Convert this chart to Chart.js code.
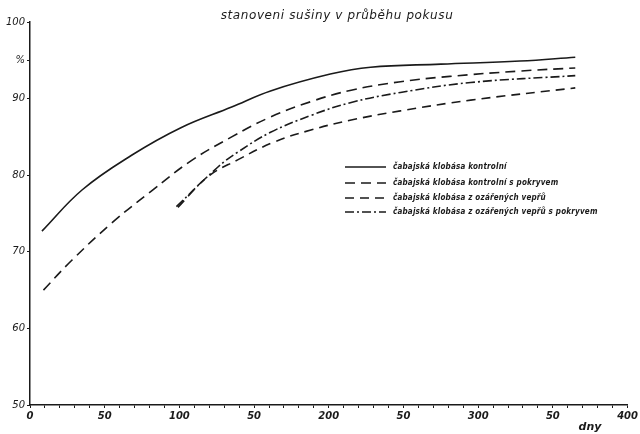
<!DOCTYPE html>
<html>
<head>
<meta charset="utf-8">
<script src="https://cdn.jsdelivr.net/npm/chart.js@4.4.1/dist/chart.umd.min.js"></script>
<style>
  html, body { margin: 0; padding: 0; background: #fff; }
  #wrap { width: 640px; height: 434px; }
</style>
</head>
<body>
<div id="wrap"><canvas id="c" width="640" height="434"></canvas></div>
<script>
// values (days, % dry matter)
const seriesLabels = [
  'čabajská klobása kontrolní',
  'čabajská klobása kontrolní s pokryvem',
  'čabajská klobása z ozářených vepřů',
  'čabajská klobása z ozářených vepřů s pokryvem'
];
const controlDays = [8, 35, 68, 101, 135, 161, 201, 228, 275, 328, 365];
const controlValues = [72.7, 78.1, 82.6, 86.2, 88.9, 91.0, 93.2, 94.1, 94.5, 94.9, 95.4];
const coveredDays = [9, 28, 55, 81, 108, 135, 161, 188, 215, 248, 281, 328, 365];
const coveredValues = [65.0, 68.9, 73.8, 77.9, 81.9, 85.0, 87.6, 89.6, 91.1, 92.2, 92.9, 93.6, 94.0];
const irradiatedDays = [99, 119, 139, 163, 188, 215, 248, 295, 365];
const irradiatedValues = [75.8, 79.8, 82.0, 84.3, 85.9, 87.2, 88.4, 89.8, 91.4];
const irrCoveredDays = [98, 126, 139, 161, 188, 215, 248, 295, 365];
const irrCoveredValues = [75.9, 81.1, 83.0, 85.6, 87.8, 89.5, 90.8, 92.1, 93.0];

const yTickValues = [50, 60, 70, 80, 90, 95, 100];
const chartTitle = 'stanoveni sušiny v průběhu pokusu';
const xAxisTitle = 'dny';

const ink = '#1a1a1a';
const pts = (xs, ys) => xs.map((x, i) => ({ x: x, y: ys[i] }));

const dashes = [[], [10, 6], [9, 6], [9, 3, 2, 3]];

// title, axis name and the hand-drawn legend
const annotations = {
  id: 'annotations',
  afterDraw(chart) {
    const ctx = chart.ctx;
    ctx.save();
    ctx.fillStyle = ink;
    ctx.font = 'italic 12px "DejaVu Sans"';
    ctx.textAlign = 'center';
    ctx.textBaseline = 'middle';
    ctx.letterSpacing = '0.6px';
    ctx.fillText(chartTitle, 337, 16);
    ctx.letterSpacing = '0px';

    ctx.font = 'italic bold 11px "DejaVu Sans"';
    ctx.fillText(xAxisTitle, 590, 427);

    // legend
    const rows = [167, 183, 198, 212];
    chart.data.datasets.forEach((ds, i) => {
      const y = rows[i];
      ctx.strokeStyle = ink;
      ctx.lineWidth = 1.5;
      ctx.setLineDash(ds.borderDash || []);
      ctx.beginPath();
      ctx.moveTo(345, y);
      ctx.lineTo(386, y);
      ctx.stroke();
      ctx.setLineDash([]);
      ctx.font = 'italic bold 8px "DejaVu Sans Condensed", "DejaVu Sans"';
      ctx.textAlign = 'left';
      ctx.letterSpacing = '0.2px';
      ctx.fillText(ds.label, 393, y);
    });
    ctx.restore();
  }
};

new Chart(document.getElementById('c'), {
  type: 'line',
  data: {
    datasets: [
      { label: seriesLabels[0], data: pts(controlDays, controlValues), borderDash: dashes[0] },
      { label: seriesLabels[1], data: pts(coveredDays, coveredValues), borderDash: dashes[1] },
      { label: seriesLabels[2], data: pts(irradiatedDays, irradiatedValues), borderDash: dashes[2] },
      { label: seriesLabels[3], data: pts(irrCoveredDays, irrCoveredValues), borderDash: dashes[3] }
    ].map(d => Object.assign(d, {
      borderColor: ink,
      borderWidth: 1.6,
      pointRadius: 0,
      fill: false,
      tension: 0.4
    }))
  },
  options: {
    responsive: false,
    animation: false,
    layout: { padding: { top: 22, right: 12, left: 0, bottom: 0 } },
    plugins: {
      legend: { display: false },
      title: { display: false },
      tooltip: { enabled: false }
    },
    scales: {
      x: {
        type: 'linear',
        min: 0,
        max: 400,
        afterFit: s => { s.height = 29; },
        border: { color: ink, width: 1.5 },
        grid: { display: true, drawOnChartArea: false, tickLength: 3, color: ink },
        ticks: {
          stepSize: 10,
          autoSkip: false,
          maxRotation: 0,
          padding: 2,
          color: ink,
          font: { family: 'DejaVu Sans', size: 10, style: 'italic', weight: 'bold' },
          callback: v => (v % 50 !== 0 ? '' : (v % 100 === 50 ? '50' : String(v)))
        }
      },
      y: {
        min: 50,
        max: 100,
        afterFit: s => { s.width = 30; },
        afterBuildTicks: s => { s.ticks = yTickValues.map(v => ({ value: v })); },
        border: { color: ink, width: 1.5 },
        grid: { display: true, drawOnChartArea: false, tickLength: 3, color: ink },
        ticks: {
          padding: 2,
          color: ink,
          font: { family: 'DejaVu Sans', size: 10, style: 'italic' },
          callback: v => (v === 95 ? '%' : String(v))
        }
      }
    }
  },
  plugins: [annotations]
});
</script>
</body>
</html>
